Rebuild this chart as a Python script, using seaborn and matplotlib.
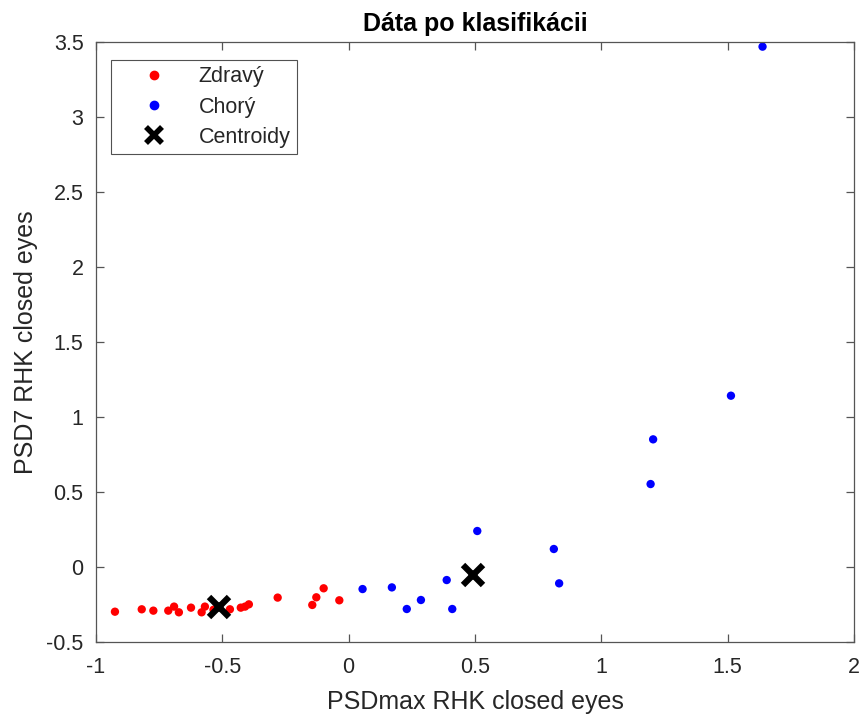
import matplotlib
matplotlib.use("Agg")
import matplotlib.pyplot as plt
from matplotlib.lines import Line2D
import seaborn as sns
import pandas as pd

# Cluster "Zdravý"
healthy_x = [-0.925, -0.819, -0.773, -0.714, -0.691, -0.672, -0.624, -0.582, -0.569,
             -0.535, -0.513, -0.470, -0.427, -0.410, -0.395, -0.281, -0.144, -0.128,
             -0.099, -0.037]
healthy_y = [-0.298, -0.282, -0.291, -0.291, -0.264, -0.302, -0.271, -0.302, -0.264,
             -0.285, -0.265, -0.282, -0.271, -0.264, -0.249, -0.204, -0.253, -0.202,
             -0.142, -0.222]

# Cluster "Chorý"
sick_x = [0.055, 0.171, 0.230, 0.286, 0.388, 0.410, 0.509, 0.812, 0.833,
          1.195, 1.205, 1.513, 1.638]
sick_y = [-0.147, -0.136, -0.280, -0.220, -0.087, -0.280, 0.240, 0.120, -0.109,
          0.553, 0.851, 1.142, 3.469]

# Cluster centroids
centroid_x = [-0.513, 0.493]
centroid_y = [-0.265, -0.053]

labels = ["Zdravý", "Chorý", "Centroidy"]
x_ticks = [-1, -0.5, 0, 0.5, 1, 1.5, 2]
y_ticks = [-0.5, 0, 0.5, 1, 1.5, 2, 2.5, 3, 3.5]

df = pd.DataFrame({
    "x": healthy_x + sick_x,
    "y": healthy_y + sick_y,
    "trieda": [labels[0]] * len(healthy_x) + [labels[1]] * len(sick_x),
})

sns.set_theme(style="white")
plt.rcParams["font.family"] = ["Liberation Sans", "DejaVu Sans"]

fig = plt.figure(figsize=(8.66, 7.17), dpi=100)
ax = fig.add_axes([96 / 866, 1 - 642 / 717, (854 - 96) / 866, (642 - 42) / 717])

sns.scatterplot(data=df, x="x", y="y", hue="trieda",
                palette={labels[0]: "#ff0000", labels[1]: "#0000ff"},
                s=36, edgecolor="none", ax=ax, legend=False)
ax.plot(centroid_x, centroid_y, linestyle="none", marker="x", color="black",
        markersize=15, markeredgewidth=4.5, zorder=5)

ax.set_xlim(-1, 2)
ax.set_ylim(-0.5, 3.5)
ax.set_xticks(x_ticks)
ax.set_xticklabels([f"{v:g}" for v in x_ticks])
ax.set_yticks(y_ticks)
ax.set_yticklabels([f"{v:g}" for v in y_ticks])

text_color = "#262626"
for sp in ax.spines.values():
    sp.set_visible(True)
    sp.set_color("#555555")
    sp.set_linewidth(0.9)
ax.tick_params(direction="in", length=6, width=0.9, color="#555555",
               labelcolor=text_color, labelsize=15.5,
               top=True, right=True, bottom=True, left=True,
               labeltop=False, labelright=False)
ax.tick_params(axis="x", pad=11)
ax.tick_params(axis="y", pad=9)

ax.set_xlabel("PSDmax RHK closed eyes", fontsize=18, color=text_color)
ax.set_ylabel("PSD7 RHK closed eyes", fontsize=18, color=text_color)
ax.xaxis.set_label_coords(0.5, -0.08)
ax.yaxis.set_label_coords(-0.076, 0.5)
ax.set_title("Dáta po klasifikácii", fontsize=18, fontweight="bold", color="black", pad=8)

# Legend entries
handles = [
    Line2D([], [], linestyle="none", marker="o", color="#ff0000", markersize=6),
    Line2D([], [], linestyle="none", marker="o", color="#0000ff", markersize=6),
    Line2D([], [], linestyle="none", marker="x", color="black", markersize=11,
           markeredgewidth=4),
]
leg = ax.legend(handles, labels, loc="upper left",
                bbox_to_anchor=((111 - 96) / 758, (642 - 60) / 600),
                fontsize=15.5, frameon=True, fancybox=False, borderpad=0.3,
                handletextpad=0.36, labelspacing=0.42, handlelength=3.4,
                borderaxespad=0.0)
leg.get_frame().set_edgecolor(text_color)
leg.get_frame().set_linewidth(0.8)
for t in leg.get_texts():
    t.set_color(text_color)

fig.savefig("out.png", dpi=100, facecolor="white")
